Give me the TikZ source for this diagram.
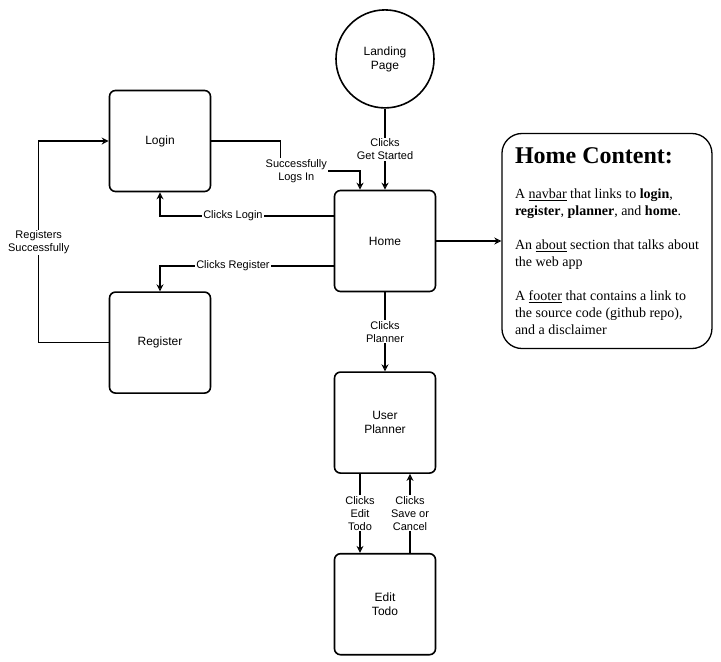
\documentclass[tikz,border=0pt]{standalone}
\usepackage{fontspec}
\setmainfont{Liberation Serif}
\setsansfont{Liberation Sans}
\usetikzlibrary{positioning}
\usetikzlibrary{arrows.meta}

\begin{document}
\begin{tikzpicture}[x=1pt,y=-1pt,
	pgnode/.style={rectangle, rounded corners=6pt, draw=black, line width=1.6pt, minimum size=101pt, align=center, font=\sffamily\fontsize{12}{14}\selectfont},
	circnode/.style={circle, draw=black, line width=1.6pt, minimum size=98pt, align=center, font=\sffamily\fontsize{12}{14}\selectfont},
	notenode/.style={rectangle, rounded corners=20pt, draw=black, line width=1.3pt, minimum width=210pt, minimum height=215pt, align=left, font=\fontsize{14}{17}\selectfont},
	lbl/.style={fill=white, inner sep=1pt, align=center, font=\sffamily\fontsize{11}{13}\selectfont},
	flow/.style={line width=1.1pt, -{Stealth[open,length=7pt,width=7pt]}}]
	\useasboundingbox (0,0) rectangle (721,662);
	\node[pgnode] (home) at (385,241) {Home};
	\node[circnode] (landing) [above = 81pt of home] {Landing\\Page};
	\node[pgnode] (planner) [below = 79pt of home] {User\\Planner};
	\node[pgnode] (edit) [below = 79pt of planner] {Edit\\Todo};
	\node[pgnode] (login) at (160,141) {Login};
	\node[pgnode] (register) [below = 99pt of login] {Register};
	\node[notenode] (content) [right = 65pt of home] {{\fontsize{24}{28}\selectfont\bfseries Home Content:}\\[18pt]
		A \underline{navbar} that links to \textbf{login},\\
		\textbf{register}, \textbf{planner}, and \textbf{home}.\\[17pt]
		An \underline{about} section that talks about\\
		the web app\\[17pt]
		A \underline{footer} that contains a link to\\
		the source code (github repo),\\
		and a disclaimer};
	\draw[flow] (landing.south) -- node[lbl] {Clicks\\Get Started} (home.north);
	\draw[flow] (login.east) -| ++(69,30) node[lbl,xshift=16pt] {Successfully\\Logs In} -| ([xshift=-25pt]home.north);
	\draw[flow] ([yshift=25pt]home.west) -| node[lbl,pos=0.29] {Clicks Login} (login.south);
	\draw[flow] ([yshift=-25pt]home.west) -| node[lbl,pos=0.29] {Clicks Register} (register.north);
	\draw[flow] (register.west) -| ++(-70,-100) node[lbl] {Registers\\Successfully} |- (login.west);
	\draw[flow] (home.east) -- (content.west);
	\draw[flow] (home.south) -- node[lbl] {Clicks\\Planner} (planner.north);
	\draw[flow] ([xshift=-25pt]planner.south) -- node[lbl] {Clicks\\Edit\\Todo} ([xshift=-25pt]edit.north);
	\draw[flow] ([xshift=25pt]edit.north) -- node[lbl] {Clicks\\Save or\\Cancel} ([xshift=25pt]planner.south);
\end{tikzpicture}
\end{document}
